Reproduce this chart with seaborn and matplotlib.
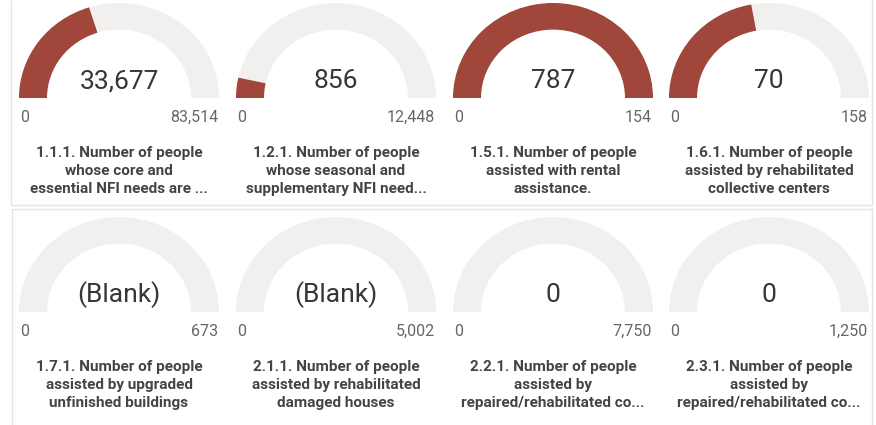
import numpy as np
import seaborn as sns
import matplotlib.pyplot as plt
from matplotlib.patches import Wedge

# donnees des jauges
titres = [
    "1.1.1. Number of people\nwhose core and\nessential NFI needs are ...",
    "1.2.1. Number of people\nwhose seasonal and\nsupplementary NFI need...",
    "1.5.1. Number of people\nassisted with rental\nassistance.",
    "1.6.1. Number of people\nassisted by rehabilitated\ncollective centers",
    "1.7.1. Number of people\nassisted by upgraded\nunfinished buildings",
    "2.1.1. Number of people\nassisted by rehabilitated\ndamaged houses",
    "2.2.1. Number of people\nassisted by\nrepaired/rehabilitated co...",
    "2.3.1. Number of people\nassisted by\nrepaired/rehabilitated co...",
]
valeurs = [33677, 856, 787, 70, None, None, 0, 0]
maximums = [83514, 12448, 154, 158, 673, 5002, 7750, 1250]

sns.set_theme(style="white")
plt.rcParams['font.family'] = ['Roboto', 'DejaVu Sans']

rouge = "#a0463a"
gris_piste = "#f2f0ef"
bordure = "#e4e4e4"

W, H = 876, 425
ech_y = 0.95  # les jauges sont un peu aplaties dans la capture

fig = plt.figure(figsize=(W / 100, H / 100), dpi=100)
ax = fig.add_axes([0, 0, 1, 1])
ax.set_xlim(0, W)
ax.set_ylim(0, H / ech_y)
ax.axis('off')


def py(y_px):
    # position verticale en pixels (depuis le haut) -> unites de l'axe
    return (H - y_px) / ech_y


# bordures des panneaux
ax.plot([11, 11], [py(0), py(205)], color=bordure, lw=1)
ax.plot([11, 872], [py(205), py(205)], color=bordure, lw=1)
ax.plot([872, 872], [py(0), py(205)], color=bordure, lw=1)
ax.plot([12, 872], [py(209), py(209)], color=bordure, lw=1)
ax.plot([12, 12], [py(209), py(425)], color=bordure, lw=1)
ax.plot([872, 872], [py(209), py(425)], color=bordure, lw=1)

centres_x = [119, 336, 553, 769]
bases_y = [98, 312]
rayon = 100
epaisseur = 28

for i, (titre, val, vmax) in enumerate(zip(titres, valeurs, maximums)):
    cx = centres_x[i % 4]
    base = bases_y[i // 4]
    cy = py(base)

    # piste grise
    ax.add_patch(Wedge((cx, cy), rayon, 0, 180, width=epaisseur,
                       facecolor=gris_piste, edgecolor='none'))
    # partie remplie
    if val is not None and val > 0:
        frac = min(val / vmax, 1.0)
        ax.add_patch(Wedge((cx, cy), rayon, 180 - frac * 180, 180, width=epaisseur,
                           facecolor=rouge, edgecolor='none'))

    texte_val = "(Blank)" if val is None else f"{val:,}"
    ax.text(cx, py(base - 17), texte_val, ha='center', va='center',
            fontsize=19, color='#363636')

    ax.text(cx - rayon + 1, py(base + 19), "0", ha='left', va='center',
            fontsize=11.5, color='#666666')
    ax.text(cx + rayon - 1, py(base + 19), f"{vmax:,}", ha='right', va='center',
            fontsize=11.5, color='#666666')

    ax.text(cx, py(base + 48), titre, ha='center', va='top',
            fontsize=11, color='#444444', fontweight='bold', linespacing=1.38)

fig.savefig("out.png", dpi=100)
